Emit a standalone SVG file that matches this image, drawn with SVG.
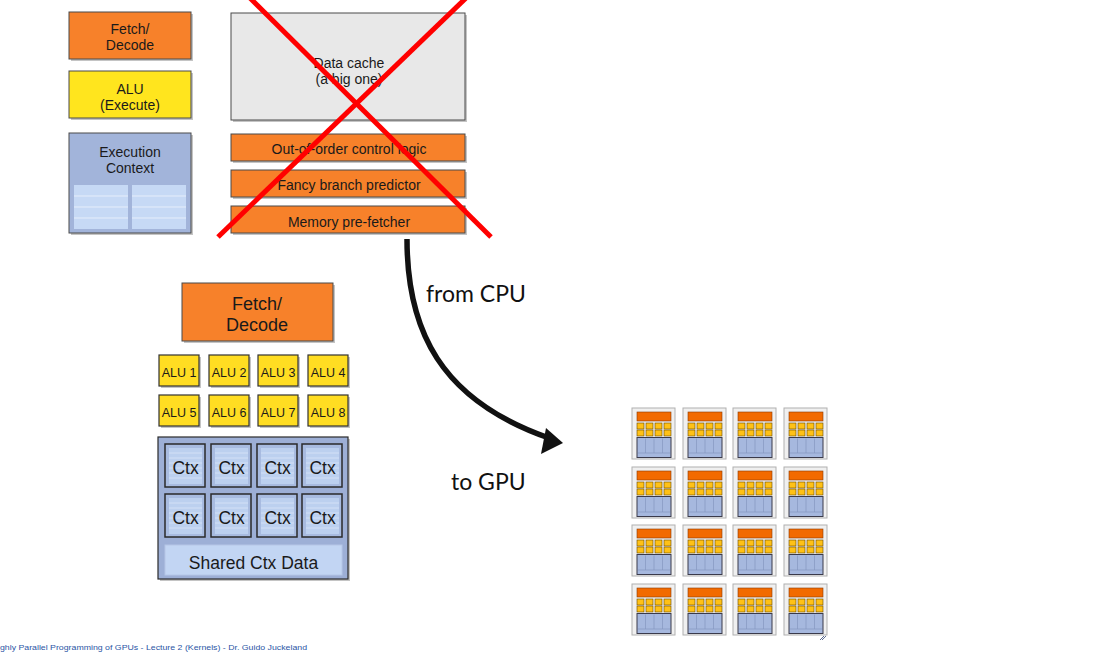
<svg xmlns="http://www.w3.org/2000/svg" xmlns:xlink="http://www.w3.org/1999/xlink" width="1120" height="652" viewBox="0 0 1120 652">
<style>
.t{font-family:"Liberation Sans",Arial,sans-serif;fill:#1a1a1a;text-anchor:middle}
.s13{font-size:14px}
.s18{font-size:18px}
.s17{font-size:17.5px}
.s12{font-size:12.5px}
.big{font-family:Lato,"Open Sans",sans-serif;font-size:23px;fill:#111}
.org{fill:#F7812A;stroke:#4a4a4a;stroke-width:1}
.yel{fill:#FFE51E;stroke:#4a4a4a;stroke-width:1}
.gyel{fill:#FFDD22;stroke:#333;stroke-width:1.2}
.blu{fill:#A2B4DA;stroke:#4a4a4a;stroke-width:1}
.gry{fill:#E8E8E8;stroke:#4a4a4a;stroke-width:1}
.sh{fill:#c4c4c4}
.pane{fill:#C6D9F5}
.pl{stroke:#E6EEFB;stroke-width:1}
.ctx{fill:#A8BBE0;stroke:#2a2a2a;stroke-width:1.5}
.ctxin{fill:#BCD0EF}
.cl{stroke:#D3E0F6;stroke-width:1}
.x{stroke:#FF0000;stroke-width:5;stroke-linecap:butt}
</style>
<defs>
<g id="mini">
<rect x="0" y="0" width="43" height="51" fill="#F0F0F0" stroke="#B0B0B0" stroke-width="1"/>
<rect x="5" y="4" width="34" height="9" fill="#F26A00" stroke="#8a3a00" stroke-width="0.6"/>
<g fill="#FFC116" stroke="#6a4a00" stroke-width="0.6">
<rect x="5" y="15" width="7" height="6"/><rect x="14" y="15" width="7" height="6"/><rect x="23" y="15" width="7" height="6"/><rect x="32" y="15" width="7" height="6"/>
<rect x="5" y="22" width="7" height="6"/><rect x="14" y="22" width="7" height="6"/><rect x="23" y="22" width="7" height="6"/><rect x="32" y="22" width="7" height="6"/>
</g>
<rect x="5" y="29.5" width="34" height="20" fill="#A6B8DE" stroke="#3a3a4a" stroke-width="1"/>
<g stroke="#8597C0" stroke-width="0.7">
<line x1="13.5" y1="30.5" x2="13.5" y2="45"/><line x1="22" y1="30.5" x2="22" y2="45"/><line x1="30.5" y1="30.5" x2="30.5" y2="45"/>
<line x1="6" y1="45" x2="38" y2="45"/>
</g>
</g>
</defs>

<!-- CPU core -->
<g id="cpu-fetch">
<rect class="sh" x="71" y="14" width="122" height="47"/>
<rect class="org" x="69" y="12" width="122" height="47"/>
<text class="t s13" x="130" y="34">Fetch/</text>
<text class="t s13" x="130" y="50">Decode</text>
</g>
<g id="cpu-alu">
<rect class="sh" x="71" y="73" width="122" height="47"/>
<rect class="yel" x="69" y="71" width="122" height="47"/>
<text class="t s13" x="130" y="94">ALU</text>
<text class="t s13" x="130" y="110">(Execute)</text>
</g>
<g id="cpu-context">
<rect class="sh" x="71" y="135" width="122" height="100"/>
<rect class="blu" x="69" y="133" width="122" height="100"/>
<text class="t s13" x="130" y="157">Execution</text>
<text class="t s13" x="130" y="173">Context</text>
<rect class="pane" x="74" y="185" width="54" height="44"/>
<rect class="pane" x="132" y="185" width="54" height="44"/>
<g class="pl">
<line x1="74" y1="196" x2="128" y2="196"/><line x1="74" y1="207" x2="128" y2="207"/><line x1="74" y1="218" x2="128" y2="218"/>
<line x1="132" y1="196" x2="186" y2="196"/><line x1="132" y1="207" x2="186" y2="207"/><line x1="132" y1="218" x2="186" y2="218"/>
</g>
</g>
<g id="data-cache">
<rect class="sh" x="233" y="15" width="234" height="107"/>
<rect class="gry" x="231" y="13" width="234" height="107"/>
<text class="t s13" x="349" y="68">Data cache</text>
<text class="t s13" x="349" y="84">(a big one)</text>
</g>
<g id="ooo-logic">
<rect class="sh" x="233" y="136" width="234" height="27"/>
<rect class="org" x="231" y="134" width="234" height="27"/>
<text class="t s13" x="349" y="154">Out-of-order control logic</text>
</g>
<g id="branch-predictor">
<rect class="sh" x="233" y="172" width="234" height="27"/>
<rect class="org" x="231" y="170" width="234" height="27"/>
<text class="t s13" x="349" y="190">Fancy branch predictor</text>
</g>
<g id="prefetcher">
<rect class="sh" x="233" y="208" width="234" height="27"/>
<rect class="org" x="231" y="206" width="234" height="27"/>
<text class="t s13" x="349" y="227">Memory pre-fetcher</text>
</g>
<g id="cross-out">
<line class="x" x1="250" y1="-2" x2="491" y2="237"/>
<line class="x" x1="466" y1="-2" x2="218" y2="237"/>
</g>

<!-- GPU core -->
<g id="gpu-fetch">
<rect class="sh" x="184" y="285" width="151" height="58"/>
<rect class="org" x="182" y="283" width="151" height="58"/>
<text class="t s18" x="257" y="310">Fetch/</text>
<text class="t s18" x="257" y="331">Decode</text>
</g>
<g id="gpu-alus">
<rect class="sh" x="161" y="357" width="40" height="31"/><rect class="gyel" x="159" y="355" width="40" height="31"/><text class="t s12" x="179" y="377">ALU 1</text>
<rect class="sh" x="211" y="357" width="40" height="31"/><rect class="gyel" x="209" y="355" width="40" height="31"/><text class="t s12" x="229" y="377">ALU 2</text>
<rect class="sh" x="260" y="357" width="40" height="31"/><rect class="gyel" x="258" y="355" width="40" height="31"/><text class="t s12" x="278" y="377">ALU 3</text>
<rect class="sh" x="310" y="357" width="40" height="31"/><rect class="gyel" x="308" y="355" width="40" height="31"/><text class="t s12" x="328" y="377">ALU 4</text>
<rect class="sh" x="161" y="397" width="40" height="31"/><rect class="gyel" x="159" y="395" width="40" height="31"/><text class="t s12" x="179" y="417">ALU 5</text>
<rect class="sh" x="211" y="397" width="40" height="31"/><rect class="gyel" x="209" y="395" width="40" height="31"/><text class="t s12" x="229" y="417">ALU 6</text>
<rect class="sh" x="260" y="397" width="40" height="31"/><rect class="gyel" x="258" y="395" width="40" height="31"/><text class="t s12" x="278" y="417">ALU 7</text>
<rect class="sh" x="310" y="397" width="40" height="31"/><rect class="gyel" x="308" y="395" width="40" height="31"/><text class="t s12" x="328" y="417">ALU 8</text>
</g>
<g id="gpu-contexts">
<rect class="sh" x="160" y="439" width="190" height="142"/>
<rect x="158" y="437" width="190" height="142" fill="#9DAFD6" stroke="#2a2a2a" stroke-width="1.2"/>
<g id="ctx-boxes">
<rect class="ctx" x="165" y="444" width="40" height="43"/><rect class="ctxin" x="169" y="448" width="33" height="36"/>
<rect class="ctx" x="211" y="444" width="40" height="43"/><rect class="ctxin" x="215" y="448" width="33" height="36"/>
<rect class="ctx" x="257" y="444" width="40" height="43"/><rect class="ctxin" x="261" y="448" width="33" height="36"/>
<rect class="ctx" x="302" y="444" width="40" height="43"/><rect class="ctxin" x="306" y="448" width="33" height="36"/>
<rect class="ctx" x="165" y="494" width="40" height="43"/><rect class="ctxin" x="169" y="498" width="33" height="36"/>
<rect class="ctx" x="211" y="494" width="40" height="43"/><rect class="ctxin" x="215" y="498" width="33" height="36"/>
<rect class="ctx" x="257" y="494" width="40" height="43"/><rect class="ctxin" x="261" y="498" width="33" height="36"/>
<rect class="ctx" x="302" y="494" width="40" height="43"/><rect class="ctxin" x="306" y="498" width="33" height="36"/>
<g class="cl">
<path d="M169 453H202M169 458H202M169 463H202M169 468H202M169 473H202M169 478H202M215 453H248M215 458H248M215 463H248M215 468H248M215 473H248M215 478H248M261 453H294M261 458H294M261 463H294M261 468H294M261 473H294M261 478H294M306 453H339M306 458H339M306 463H339M306 468H339M306 473H339M306 478H339"/>
<path d="M169 503H202M169 508H202M169 513H202M169 518H202M169 523H202M169 528H202M215 503H248M215 508H248M215 513H248M215 518H248M215 523H248M215 528H248M261 503H294M261 508H294M261 513H294M261 518H294M261 523H294M261 528H294M306 503H339M306 508H339M306 513H339M306 518H339M306 523H339M306 528H339"/>
</g>
<text class="t s17" x="185.5" y="474">Ctx</text>
<text class="t s17" x="231.5" y="474">Ctx</text>
<text class="t s17" x="277.5" y="474">Ctx</text>
<text class="t s17" x="322.5" y="474">Ctx</text>
<text class="t s17" x="185.5" y="524">Ctx</text>
<text class="t s17" x="231.5" y="524">Ctx</text>
<text class="t s17" x="277.5" y="524">Ctx</text>
<text class="t s17" x="322.5" y="524">Ctx</text>
</g>
<g id="shared-ctx">
<rect x="165" y="545" width="177" height="30" fill="#C2D5F3" stroke="#B5C6E6" stroke-width="1"/>
<text class="t s17" x="253.5" y="569">Shared Ctx Data</text>
</g>
</g>

<!-- connector -->
<g id="connectors">
<path d="M407,239 C407,330 440,400 549,438" fill="none" stroke="#111" stroke-width="5.5"/>
<polygon points="563,443 546,428 541,454" fill="#111"/>
</g>
<text class="big" x="426" y="302">from CPU</text>
<text class="big" x="451" y="490">to GPU</text>

<!-- GPU grid -->
<g id="gpu-grid">
<g id="core-1-1"><use xlink:href="#mini" href="#mini" x="632" y="408"/></g>
<g id="core-1-2"><use xlink:href="#mini" href="#mini" x="683" y="408"/></g>
<g id="core-1-3"><use xlink:href="#mini" href="#mini" x="733" y="408"/></g>
<g id="core-1-4"><use xlink:href="#mini" href="#mini" x="784" y="408"/></g>
<g id="core-2-1"><use xlink:href="#mini" href="#mini" x="632" y="467"/></g>
<g id="core-2-2"><use xlink:href="#mini" href="#mini" x="683" y="467"/></g>
<g id="core-2-3"><use xlink:href="#mini" href="#mini" x="733" y="467"/></g>
<g id="core-2-4"><use xlink:href="#mini" href="#mini" x="784" y="467"/></g>
<g id="core-3-1"><use xlink:href="#mini" href="#mini" x="632" y="525"/></g>
<g id="core-3-2"><use xlink:href="#mini" href="#mini" x="683" y="525"/></g>
<g id="core-3-3"><use xlink:href="#mini" href="#mini" x="733" y="525"/></g>
<g id="core-3-4"><use xlink:href="#mini" href="#mini" x="784" y="525"/></g>
<g id="core-4-1"><use xlink:href="#mini" href="#mini" x="632" y="584"/></g>
<g id="core-4-2"><use xlink:href="#mini" href="#mini" x="683" y="584"/></g>
<g id="core-4-3"><use xlink:href="#mini" href="#mini" x="733" y="584"/></g>
<g id="core-4-4"><use xlink:href="#mini" href="#mini" x="784" y="584"/></g>
<path d="M820 640L824 636M822 640L826 636" stroke="#5a6a90" stroke-width="1"/>
</g>

<text x="0" y="650" font-family="Liberation Sans,Arial,sans-serif" font-size="8" fill="#2a55a5" textLength="307" lengthAdjust="spacingAndGlyphs">ghly Parallel Programming of GPUs - Lecture 2 (Kernels) - Dr. Guido Juckeland</text>
</svg>
